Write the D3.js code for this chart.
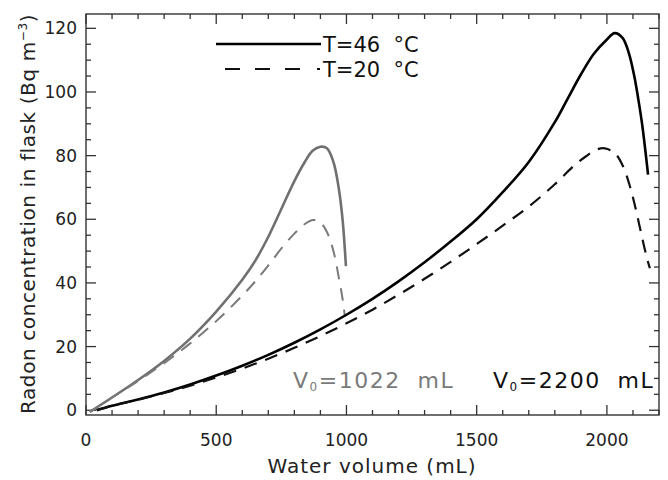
<!DOCTYPE html>
<html><head><meta charset="utf-8">
<script src="https://cdn.jsdelivr.net/npm/d3@7"></script>
<style>
body{margin:0;background:#fff;}
text{font-family:"DejaVu Sans",sans-serif;}
</style></head>
<body><svg id="c" width="668" height="480"></svg>
<script>
// Data (volume mL, concentration Bq m^-3)
const blackSolidX = [41,100,200,300,400,500,600,700,800,900,1000,1100,1200,1300,1400,1500,1600,1700,1800,1850,1900,1950,2000,2030,2060,2085,2105,2120,2135,2147,2158];
const blackSolidY = [0,1.4,3.4,5.6,8.1,10.9,14.0,17.4,21.2,25.4,30.0,35.0,40.5,46.5,53.0,60.0,68.5,78,90.5,98,105.5,112,116.5,118.5,117,112,105,98,90,82,74];
const blackDashX = [41,100,200,300,400,500,600,700,800,900,1000,1100,1200,1300,1400,1500,1600,1700,1800,1873,1920,1960,1992,2030,2060,2086,2107,2125,2140,2153,2165];
const blackDashY = [0,1.4,3.3,5.4,7.7,10.3,13.1,16.2,19.6,23.3,27.3,31.6,36.3,41.3,46.6,52.2,58.0,64.0,71,76.8,79.8,81.9,82.3,80.8,77,71,64.5,58,52.5,48,44.6];
const graySolidX = [15,100,200,300,400,500,600,650,700,757,800,840,870,900,925,950,970,985,998];
const graySolidY = [-0.5,4,9.5,15.5,22.5,31,41,47,54.5,64.5,72,78,81.5,82.8,82.3,78,70,60,45.3];
const grayDashX = [15,100,200,300,400,500,600,650,700,757,800,840,872,900,925,950,970,985,994];
const grayDashY = [-0.5,4,9.2,14.8,21,28,36,40.5,45.5,51.5,55.5,58.5,59.8,59,56,50,42,35,29.4];
const xTicks = [0,500,1000,1500,2000];
const yTicks = [0,20,40,60,80,100,120];
const legendLabels = ["T=46  °C","T=20  °C"];

const svg = d3.select("#c");
const x = d3.scaleLinear().domain([0,2200]).range([86,659]);
const y = d3.scaleLinear().domain([-1.5,124.5]).range([415,14]);
const axisColor = "#333";

svg.append("rect").attr("x",86).attr("y",14).attr("width",573).attr("height",401)
  .attr("fill","none").attr("stroke",axisColor).attr("stroke-width",1.4);

const xMinor = d3.range(0,2201,100).filter(v=>v%500!==0);
const yMinor = d3.range(0,125,5).filter(v=>v%20!==0);
function ticks(vals,len,axis){
  vals.forEach(v=>{
    if(axis==="x"){
      svg.append("line").attr("x1",x(v)).attr("x2",x(v)).attr("y1",415).attr("y2",415-len).attr("stroke",axisColor).attr("stroke-width",1.3);
      svg.append("line").attr("x1",x(v)).attr("x2",x(v)).attr("y1",14).attr("y2",14+len).attr("stroke",axisColor).attr("stroke-width",1.3);
    } else {
      svg.append("line").attr("y1",y(v)).attr("y2",y(v)).attr("x1",86).attr("x2",86+len).attr("stroke",axisColor).attr("stroke-width",1.3);
      svg.append("line").attr("y1",y(v)).attr("y2",y(v)).attr("x1",659).attr("x2",659-len).attr("stroke",axisColor).attr("stroke-width",1.3);
    }
  });
}
ticks(xTicks,10,"x"); ticks(xMinor,5,"x");
ticks(yTicks,10,"y"); ticks(yMinor,5,"y");

svg.selectAll(".xl").data(xTicks).enter().append("text")
  .attr("x",d=>x(d)).attr("y",446).attr("text-anchor","middle")
  .attr("font-size",17).attr("fill","#222").text(d=>d);
svg.selectAll(".yl").data(yTicks).enter().append("text")
  .attr("x",77).attr("y",d=>y(d)+6).attr("text-anchor","end")
  .attr("font-size",17).attr("fill","#222").text(d=>d);

svg.append("text").attr("x",372).attr("y",473).attr("text-anchor","middle")
  .attr("font-size",20).attr("fill","#222").attr("letter-spacing",1).text("Water volume (mL)");
const yl = svg.append("text").attr("transform","translate(35,214) rotate(-90)")
  .attr("text-anchor","middle").attr("font-size",20).attr("fill","#222").attr("letter-spacing",0.6);
yl.append("tspan").text("Radon concentration in flask (Bq m");
yl.append("tspan").attr("font-size",12).attr("dy",-8).text("−3");
yl.append("tspan").attr("dy",8).text(")");

const line = d3.line().x(d=>x(d[0])).y(d=>y(d[1])).curve(d3.curveCatmullRom.alpha(0.5));
function draw(xs,ys,color,dash,w){
  svg.append("path").datum(xs.map((v,i)=>[v,ys[i]])).attr("d",line)
    .attr("fill","none").attr("stroke",color).attr("stroke-width",w)
    .attr("stroke-dasharray",dash);
}
draw(graySolidX,graySolidY,"#707070",null,2.6);
draw(grayDashX,grayDashY,"#7a7a7a","13,9",2);
draw(blackSolidX,blackSolidY,"#000",null,2.6);
draw(blackDashX,blackDashY,"#111","13,9",2.2);

// legend
svg.append("line").attr("x1",216).attr("x2",321).attr("y1",44).attr("y2",44).attr("stroke","#000").attr("stroke-width",2.6);
svg.append("line").attr("x1",225).attr("x2",300).attr("y1",69).attr("y2",69).attr("stroke","#111").attr("stroke-width",2).attr("stroke-dasharray","15,15");
svg.append("line").attr("x1",317).attr("x2",320).attr("y1",69).attr("y2",69).attr("stroke","#111").attr("stroke-width",2);
svg.append("text").attr("x",323).attr("y",52).attr("font-size",21).attr("fill","#111").attr("xml:space","preserve").text(legendLabels[0]);
svg.append("text").attr("x",323).attr("y",77).attr("font-size",21).attr("fill","#111").attr("xml:space","preserve").text(legendLabels[1]);

function vlabel(xp,yp,color,val){
  const t = svg.append("text").attr("x",xp).attr("y",yp).attr("font-size",22).attr("fill",color)
    .attr("letter-spacing",1.5).attr("xml:space","preserve");
  t.append("tspan").text("V");
  t.append("tspan").attr("font-size",12).attr("dy",3).text("0");
  t.append("tspan").attr("dy",-3).text("="+val+"  mL");
}
vlabel(293,388,"#7a7a7a","1022");
vlabel(493,388,"#111","2200");
</script></body></html>
